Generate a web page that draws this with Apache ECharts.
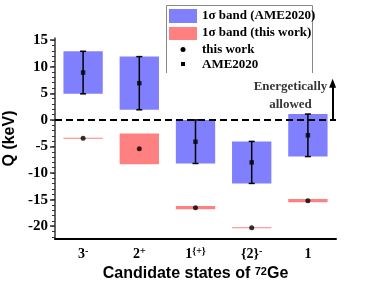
<!DOCTYPE html>
<html><head><meta charset="utf-8">
<script src="https://cdn.jsdelivr.net/npm/echarts@6/dist/echarts.min.js"></script>
<style>html,body{margin:0;padding:0;background:#fff}#c{width:374px;height:286px}</style>
</head><body><div id="c"></div>
<script>
// ---- data ----
const categories = ['3-', '2+', '1{+}', '{2}-', '1'];
const labelBase = ['3', '2', '1', '{2}', '1'];
const labelSup = ['-', '+', '{+}', '-', ''];
const ameValue = [8.9, 6.9, -4.1, -8.0, -2.9];
const ameError = [4.0, 5.0, 4.1, 3.95, 4.0];
const thisValue = [-3.45, -5.45, -16.5, -20.3, -15.2];
const thisError = [0.08, 2.9, 0.32, 0.1, 0.31];
const yTicks = [-20, -15, -10, -5, 0, 5, 10, 15];
const yMinorTicks = [];
for (let v = -22; v <= 15; v++) yMinorTicks.push(v);
const yMin = -22.4, yMax = 15.4;
const arrowX = 4.94, arrowFrom = 0, arrowTo = 6.9;
const noteX = 4.19, noteY = 4.5;
const legendNames = ['1σ band (AME2020)', '1σ band (this work)', 'this work', 'AME2020'];

const BLUE = '#8080FF', RED = '#FF8080';
const SERIF = 'Liberation Serif', SANS = 'Liberation Sans';

// text width measurement for superscript label layout
const mctx = document.createElement('canvas').getContext('2d');
function tw(text, font) { mctx.font = font; return mctx.measureText(text).width; }
const BASE_SIZE = 14, SUP_SIZE = 10;
const baseW = labelBase.map(t => tw(t, 'bold ' + BASE_SIZE + 'px "' + SERIF + '"'));
const supW = labelSup.map(t => tw(t, 'bold ' + SUP_SIZE + 'px "' + SERIF + '"'));
const richBase = {}, richSup = {};
categories.forEach((c, i) => {
  richBase['r' + i] = { width: supW[i], fontSize: 1, lineHeight: 1 };
  richSup['l' + i] = { width: baseW[i], fontSize: 1, lineHeight: 1 };
});

function bandRenderer(color) {
  return function (params, api) {
    const lo = api.coord([api.value(0), api.value(1)]);
    const hi = api.coord([api.value(0), api.value(2)]);
    const w = api.size([1, 0])[0] * 0.7;
    return { type: 'rect', shape: { x: lo[0] - w / 2, y: hi[1], width: w, height: Math.max(lo[1] - hi[1], 0.5) },
      style: { fill: color } };
  };
}
function errRenderer(params, api) {
  const lo = api.coord([api.value(0), api.value(1)]);
  const hi = api.coord([api.value(0), api.value(2)]);
  const c = 3;
  const st = { stroke: '#000', lineWidth: 1.5 };
  return { type: 'group', children: [
    { type: 'line', shape: { x1: lo[0], y1: lo[1], x2: hi[0], y2: hi[1] }, style: st },
    { type: 'line', shape: { x1: lo[0] - c, y1: lo[1], x2: lo[0] + c, y2: lo[1] }, style: st },
    { type: 'line', shape: { x1: hi[0] - c, y1: hi[1], x2: hi[0] + c, y2: hi[1] }, style: st }
  ] };
}

const chart = echarts.init(document.getElementById('c'), null, { renderer: 'canvas' });
const legendTxt = { fontFamily: SERIF, fontWeight: 'bold', fontSize: 13, fill: '#000', verticalAlign: 'middle' };
chart.setOption({
  animation: false,
  grid: { left: 55, right: 38, top: 38, bottom: 47, outerBoundsMode: 'none' },
  xAxis: [
    { type: 'category', data: categories, position: 'bottom',
      axisLine: { onZero: false, lineStyle: { color: '#000', width: 2 } },
      axisTick: { alignWithLabel: true, length: 3, lineStyle: { color: '#000', width: 2 } },
      axisLabel: { interval: 0, margin: 8, color: '#000', fontFamily: SERIF, fontWeight: 'bold', fontSize: BASE_SIZE,
        formatter: (v, i) => labelBase[i] + (supW[i] > 0 ? '{r' + i + '| }' : ''), rich: richBase },
      name: 'Candidate states of {sup|72}Ge', nameLocation: 'middle', nameGap: 27,
      nameTextStyle: { color: '#000', fontFamily: SANS, fontWeight: 'bold', fontSize: 16, lineHeight: 16,
        rich: { sup: { color: '#000', fontFamily: SANS, fontWeight: 'bold', fontSize: 11, lineHeight: 9, verticalAlign: 'top' } } } },
    { type: 'category', data: categories, position: 'bottom',
      axisLine: { show: false, onZero: false }, axisTick: { show: false },
      axisLabel: { interval: 0, margin: 7, color: '#000', fontFamily: SERIF, fontWeight: 'bold', fontSize: SUP_SIZE,
        formatter: (v, i) => '{l' + i + '| }' + labelSup[i], rich: richSup } },
    { type: 'value', min: 0, max: 5, show: false }
  ],
  yAxis: [
    { type: 'value', min: yMin, max: yMax, splitNumber: 8,
      axisLine: { show: true, onZero: false, lineStyle: { color: '#333', width: 1.5 } },
      axisTick: { show: true, length: 5, customValues: yTicks, lineStyle: { color: '#333', width: 1.5 } },
      axisLabel: { customValues: yTicks, margin: 7, color: '#000', fontFamily: SERIF, fontWeight: 'bold', fontSize: 15 },
      splitLine: { show: false },
      name: 'Q (keV)', nameLocation: 'middle', nameGap: 32,
      nameTextStyle: { color: '#000', fontFamily: SANS, fontWeight: 'bold', fontSize: 16 } },
    { type: 'value', min: yMin, max: yMax, position: 'left',
      axisLine: { show: false }, axisLabel: { show: false }, splitLine: { show: false },
      axisTick: { show: true, length: 3, customValues: yMinorTicks, lineStyle: { color: '#333', width: 1 } } }
  ],
  series: [
    { type: 'custom', name: legendNames[0], xAxisIndex: 0, yAxisIndex: 0, z: 1,
      data: categories.map((c, i) => [i, ameValue[i] - ameError[i], ameValue[i] + ameError[i]]),
      encode: { x: 0, y: [1, 2] }, renderItem: bandRenderer(BLUE) },
    { type: 'custom', name: legendNames[1], xAxisIndex: 0, yAxisIndex: 0, z: 1,
      data: categories.map((c, i) => [i, thisValue[i] - thisError[i], thisValue[i] + thisError[i]]),
      encode: { x: 0, y: [1, 2] }, renderItem: bandRenderer(RED) },
    { type: 'custom', name: 'AME2020 error', xAxisIndex: 0, yAxisIndex: 0, z: 3,
      data: categories.map((c, i) => [i, ameValue[i] - ameError[i], ameValue[i] + ameError[i]]),
      encode: { x: 0, y: [1, 2] }, renderItem: errRenderer },
    { type: 'scatter', name: legendNames[2], xAxisIndex: 0, yAxisIndex: 0, z: 4,
      data: thisValue, symbol: 'circle', symbolSize: 5, itemStyle: { color: '#000' } },
    { type: 'scatter', name: legendNames[3], xAxisIndex: 0, yAxisIndex: 0, z: 4,
      data: ameValue, symbol: 'rect', symbolSize: 4.5, itemStyle: { color: '#000' },
      markLine: { silent: true, symbol: ['none', 'none'], label: { show: false }, z: 5,
        lineStyle: { color: '#000', type: [7, 4], width: 2 }, data: [{ yAxis: 0 }] } },
    { type: 'scatter', name: 'note', xAxisIndex: 2, yAxisIndex: 0, z: 5,
      data: [[noteX, noteY]], symbolSize: 1, itemStyle: { color: 'rgba(0,0,0,0)' },
      label: { show: true, position: 'inside', formatter: 'Energetically\nallowed', color: '#000',
        fontFamily: SERIF, fontWeight: 'bold', fontSize: 13, lineHeight: 18 },
      markLine: { silent: true, symbol: ['none', 'triangle'], symbolSize: [7, 9], label: { show: false },
        lineStyle: { color: '#000', type: 'solid', width: 2 },
        data: [[{ coord: [arrowX, arrowFrom] }, { coord: [arrowX, arrowTo] }]] } }
  ],
  graphic: [
    { type: 'polyline', silent: true, shape: { points: [[166.5, 73], [166.5, 5.5], [312.5, 5.5], [312.5, 73]] },
      style: { stroke: '#888', lineWidth: 1, fill: null } },
    { type: 'rect', shape: { x: 169, y: 9, width: 28, height: 14 }, style: { fill: BLUE } },
    { type: 'rect', shape: { x: 169, y: 27, width: 28, height: 13 }, style: { fill: RED } },
    { type: 'circle', shape: { cx: 183, cy: 49.5, r: 2.5 }, style: { fill: '#000' } },
    { type: 'rect', shape: { x: 181, y: 62, width: 4, height: 4 }, style: { fill: '#000' } },
    { type: 'text', x: 202, y: 16, style: Object.assign({ text: legendNames[0] }, legendTxt) },
    { type: 'text', x: 202, y: 33, style: Object.assign({ text: legendNames[1] }, legendTxt) },
    { type: 'text', x: 202, y: 49.5, style: Object.assign({ text: legendNames[2] }, legendTxt) },
    { type: 'text', x: 202, y: 65, style: Object.assign({ text: legendNames[3] }, legendTxt) }
  ]
});
</script></body></html>
